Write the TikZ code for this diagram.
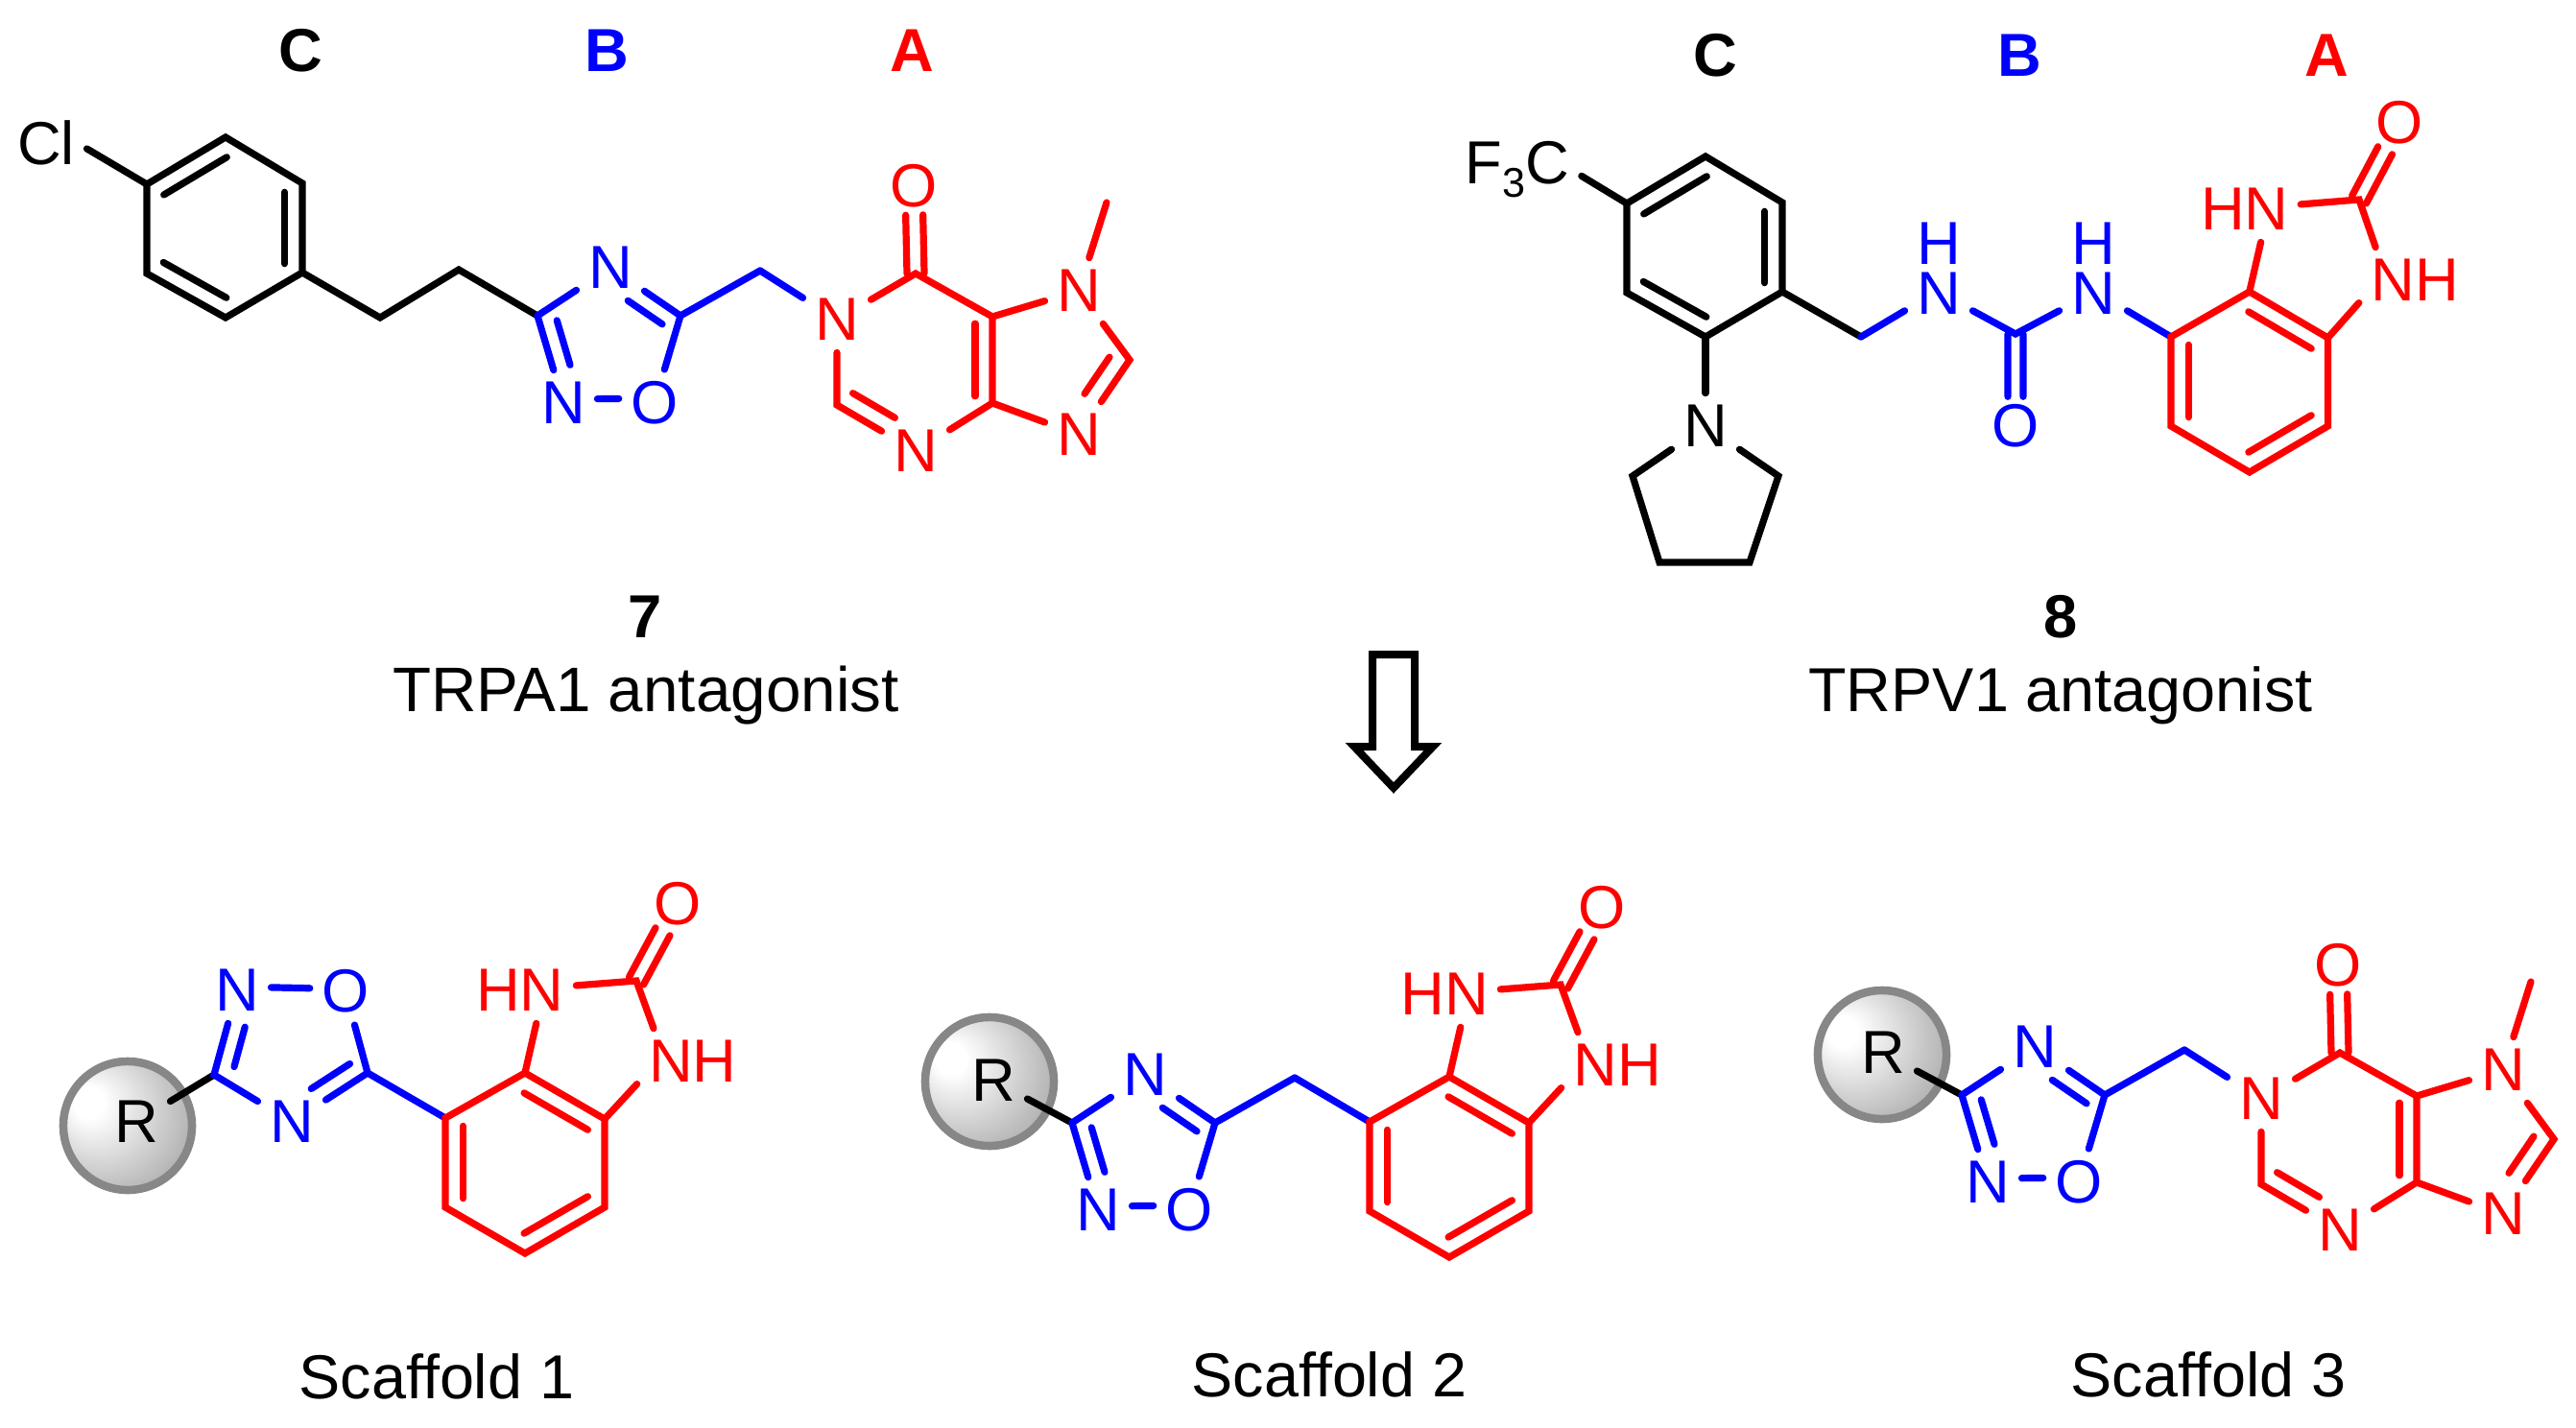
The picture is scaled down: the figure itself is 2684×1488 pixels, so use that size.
\documentclass[tikz,border=0pt]{standalone}
\usepackage{fontspec}
\setmainfont{Liberation Sans}
\usetikzlibrary{calc}
\pgfdeclareradialshading{spheregrey}{\pgfpoint{-17bp}{10bp}}{color(0bp)=(white); color(6bp)=(white); color(58bp)=(black!58)}
\tikzset{
	atom/.style={inner sep=.09cm, font=\fontsize{18}{22}\selectfont},
	urea/.style={atom, align=center, font=\fontsize{18}{14.8}\selectfont},
	tag/.style={anchor=base, inner sep=0, font=\fontsize{18}{22}\selectfont\bfseries},
	caption/.style={anchor=base, inner sep=0, font=\fontsize{18.4}{22}\selectfont},
	ball/.style={circle, shade, shading=spheregrey, draw=black!47, line width=.085cm, minimum size=1.34cm, inner sep=0},
}

\begin{document}
\begin{tikzpicture}[x=.01cm, y=-.01cm, line width=.072cm, line cap=round]
		\useasboundingbox (0,0) rectangle (2684,1488);
		\newcommand\innerbond[5][.185cm]{\draw ($(#2)!#4!(#3)!#1!90:(#3)$) -- ($(#2)!#5!(#3)!#1!90:(#3)$);}
		\newcommand\phenyl{
			\coordinate (pa) at (0,0);
			\coordinate (pb) at (82,-49);
			\coordinate (pc) at (162,-1);
			\coordinate (pd) at (162,92);
			\coordinate (pe) at (82,139);
			\coordinate (pf) at (0,93);
			\draw (pa) -- (pb) -- (pc) -- (pd) -- (pe) -- (pf) -- cycle;
			\innerbond{pb}{pa}{.1}{.9}
			\innerbond{pd}{pc}{.1}{.9}
			\innerbond{pf}{pe}{.1}{.9}
		}
		\newcommand\oxadiazole{
			\begin{scope}[blue]
				\coordinate (c3) at (0,0);
				\coordinate (c5) at (149,0);
				\coordinate (ch) at (232,-47);
				\node [atom] (n4) at (76,-50) {N};
				\node [atom] (n2) at (27,91) {N};
				\node [atom] (o1) at (122,91) {O};
				\draw (c3) -- (n4);
				\draw (n4) -- (c5) -- (o1);
				\draw (n2.7) -- (o1.173);
				\draw (n2) -- (c3);
				\innerbond[.18cm]{c5}{n4}{.12}{.61}
				\innerbond[.18cm]{c3}{n2}{.11}{.62}
				\draw (c5) -- (ch);
			\end{scope}
		}
		\newcommand\purine{
			\begin{scope}[red]
				\coordinate (pc6) at (82,-48);
				\coordinate (pc5) at (162,-3);
				\coordinate (pc4) at (162,87);
				\coordinate (pc2) at (0,89);
				\coordinate (pc8) at (305,42);
				\coordinate (pme) at (281,-122);
				\node [atom] (n1) at (0,0) {N};
				\node [atom] (n3) at (82,137) {N};
				\node [atom] (n7) at (252,-30) {N};
				\node [atom] (n9) at (252,120) {N};
				\node [atom] (o6) at (80,-139) {O};
				\draw (n1) -- (pc6) -- (pc5) -- (pc4) -- (n3) -- (pc2) -- (n1);
				\draw (pc5) -- (n7) -- (pc8) -- (n9) -- (pc4);
				\draw (pme) -- (n7);
				\innerbond[.09cm]{pc6}{o6}{0}{.67}
				\innerbond[-.09cm]{pc6}{o6}{0}{.67}
				\innerbond[.18cm]{pc4}{pc5}{.08}{.92}
				\innerbond[.19cm]{pc2}{n3}{.085}{.62}
				\innerbond[.19cm]{n9}{pc8}{.41}{.9}
			\end{scope}
		}
		\newcommand\benzimidazolone{
			\begin{scope}[red]
				\coordinate (v1) at (0,0);
				\coordinate (v2) at (83,-47);
				\coordinate (v3) at (166,1);
				\coordinate (v4) at (166,93);
				\coordinate (v5) at (83,141);
				\coordinate (v6) at (0,93);
				\coordinate (uc2) at (199,-143);
				\node [atom] (hn) at (78,-133) {HN};
				\node [atom] (nh) at (258,-59) {NH};
				\node [atom] (o2) at (242,-223) {O};
				\draw (v1) -- (v2) -- (v3) -- (v4) -- (v5) -- (v6) -- cycle;
				\draw (hn.-64) -- (v2);
				\draw (hn.5) -- (uc2) -- (nh.140);
				\draw (nh.202) -- (v3);
				\innerbond{v1}{v6}{.09}{.9}
				\innerbond{v3}{v2}{.1}{.9}
				\innerbond{v5}{v4}{.1}{.9}
				\innerbond[.085cm]{uc2}{o2}{0}{.64}
				\innerbond[-.085cm]{uc2}{o2}{0}{.64}
			\end{scope}
		}

		% compound 7
		\node [tag] (tagc7) at (313,75) {C};
		\node [tag, blue] (tagb7) at (632,75) {B};
		\node [tag, red] (taga7) at (950,75) {A};
		\node [atom] (cl) at (48,149) {Cl};
		\begin{scope}[shift={(153,192)}] \phenyl \end{scope}
		\draw (cl.-8) -- (pa);
		\coordinate (e1) at (396,331);
		\coordinate (e2) at (478,281);
		\coordinate (ox7) at (560,329);
		\draw (pd) -- (e1) -- (e2) -- (ox7);
		\begin{scope}[shift={(ox7)}] \oxadiazole \end{scope}
		\begin{scope}[shift={(872,333)}] \purine \end{scope}
		\draw [blue] (ch) -- (n1);
		\node [tag] (num7) at (672,664) {7};
		\node [caption, font=\fontsize{18.65}{22}\selectfont] (name7) at (673,741) {TRPA1 antagonist};

		% compound 8
		\node [tag] (tagc8) at (1787,80) {C};
		\node [tag, blue] (tagb8) at (2104,80) {B};
		\node [tag, red] (taga8) at (2424,80) {A};
		\node [atom, anchor=base] (cf3) at (1581,191.5) {F\raisebox{-.135cm}{\fontsize{12.3}{14}\selectfont 3}C};
		\begin{scope}[shift={(1695,212)}] \phenyl \end{scope}
		\draw (cf3.-6) -- (pa);
		\node [atom] (pyn) at (1777,444) {N};
		\coordinate (py1) at (1701,496);
		\coordinate (py2) at (1729,586);
		\coordinate (py3) at (1823,586);
		\coordinate (py4) at (1853,496);
		\draw (pe) -- (pyn);
		\draw (pyn) -- (py1) -- (py2) -- (py3) -- (py4) -- (pyn);
		\coordinate (ch8) at (1939,351);
		\draw (pd) -- (ch8);
		\coordinate (ar8) at (2262,351);
		\begin{scope}[blue]
			\node [urea] (un1) at (2020,280) {H\\N};
			\node [urea] (un2) at (2181,280) {H\\N};
			\node [atom] (uo) at (2100,444) {O};
			\coordinate (uc) at (2100,348);
			\draw (ch8) -- (un1.231);
			\draw (un1.-51) -- (uc) -- (un2.231);
			\draw (un2.-51) -- (ar8);
			\innerbond[.08cm]{uc}{uo}{0}{.68}
			\innerbond[-.08cm]{uc}{uo}{0}{.68}
		\end{scope}
		\begin{scope}[shift={(ar8)}, xscale=.985] \benzimidazolone \end{scope}
		\node [tag] (num8) at (2147,664) {8};
		\node [caption] (name8) at (2147,741) {TRPV1 antagonist};

		% arrow
		\draw [line width=.08cm, line cap=butt] (1430,682) -- (1474,682) -- (1474,778) -- (1493,778)
			-- (1452,821) -- (1411,778) -- (1430,778) -- cycle;

		% scaffold 1
		\node [ball] (ball1) at (133,1173) {};
		\node [atom] (r1) at (142,1169) {R};
		\coordinate (c31) at (223,1120);
		\coordinate (c51) at (383,1118);
		\coordinate (ar1) at (464,1165);
		\draw (r1) -- (c31);
		\begin{scope}[blue]
			\node [atom] (n21) at (247,1032) {N};
			\node [atom] (o11) at (360,1033) {O};
			\node [atom] (n41) at (304,1169) {N};
			\draw (n21) -- (c31) -- (n41) -- (c51) -- (o11);
			\draw (n21.5) -- (o11.175);
			\innerbond[.18cm]{n21}{c31}{.38}{.85}
			\innerbond[.18cm]{n41}{c51}{.38}{.89}
			\draw (c51) -- (ar1);
		\end{scope}
		\begin{scope}[shift={(ar1)}] \benzimidazolone \end{scope}
		\node [caption] (name1) at (455,1457) {Scaffold 1};

		% scaffold 2
		\node [ball] (ball2) at (1031,1127) {};
		\node [atom] (r2) at (1035,1126) {R};
		\coordinate (ox2) at (1117,1170);
		\coordinate (ar2) at (1427,1169);
		\draw (r2) -- (ox2);
		\begin{scope}[shift={(ox2)}] \oxadiazole \end{scope}
		\draw [blue] (ch) -- (ar2);
		\begin{scope}[shift={(ar2)}] \benzimidazolone \end{scope}
		\node [caption] (name2) at (1385,1455) {Scaffold 2};

		% scaffold 3
		\node [ball] (ball3) at (1961,1099) {};
		\node [atom] (r3) at (1962,1097) {R};
		\coordinate (ox3) at (2044,1141);
		\draw (r3) -- (ox3);
		\begin{scope}[shift={(ox3)}] \oxadiazole \end{scope}
		\begin{scope}[shift={(2356,1145)}] \purine \end{scope}
		\draw [blue] (ch) -- (n1);
		\node [caption] (name3) at (2301,1455) {Scaffold 3};
	\end{tikzpicture}
\end{document}
